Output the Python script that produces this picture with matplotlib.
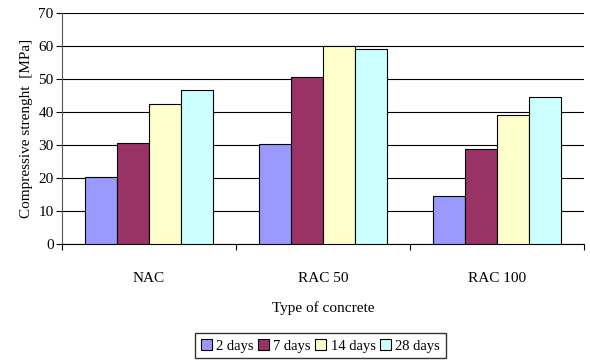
import numpy as np
import matplotlib.pyplot as plt

plt.rcParams['font.family'] = ['Liberation Serif', 'DejaVu Serif']

concrete_types = ["NAC", "RAC 50", "RAC 100"]
ages = ["2 days", "7 days", "14 days", "28 days"]
strength_2d = [20.3, 30.3, 14.5]
strength_7d = [30.6, 50.6, 28.8]
strength_14d = [42.4, 60.0, 39.0]
strength_28d = [46.6, 59.0, 44.5]
colors = ["#9999FF", "#993366", "#FFFFCC", "#CCFFFF"]

series = [strength_2d, strength_7d, strength_14d, strength_28d]

fig = plt.figure(figsize=(5.9, 3.61), dpi=100)
ax = fig.add_axes([0.105, 0.324, 0.885, 0.64])

x = np.arange(len(concrete_types))
width = 0.183
for i, vals in enumerate(series):
    ax.bar(x + (i - 1.5) * width, vals, width, color=colors[i],
           edgecolor="black", linewidth=0.8, label=ages[i], zorder=3)

ax.set_xlim(-0.5, 2.5)
ax.set_ylim(0, 70)
ax.set_yticks(range(0, 71, 10))
ax.yaxis.grid(True, color="black", linewidth=0.8, zorder=0)
ax.set_xticks([-0.5, 0.5, 1.5, 2.5])
ax.set_xticklabels([])
ax.set_xticks(x, minor=True)
ax.set_xticklabels(concrete_types, minor=True, fontsize=11)
ax.tick_params(axis="x", which="minor", length=0, pad=20)
ax.tick_params(axis="x", which="major", length=4, direction="out")
ax.tick_params(axis="y", length=4, labelsize=11, pad=2)

for side in ["top", "right"]:
    ax.spines[side].set_visible(False)
ax.spines["left"].set_color("#555555")

ax.set_ylabel("Compressive strenght  [MPa]", fontsize=11)
ax.set_xlabel("Type of concrete", fontsize=11, labelpad=12)

fig.legend(loc="center", bbox_to_anchor=(0.543, 0.042), ncol=4, fontsize=10.5,
           frameon=True, fancybox=False, edgecolor="black", handlelength=0.75,
           handleheight=0.75, handletextpad=0.3, columnspacing=0.3,
           borderpad=0.4, borderaxespad=0)

fig.savefig("out.png", dpi=100)
